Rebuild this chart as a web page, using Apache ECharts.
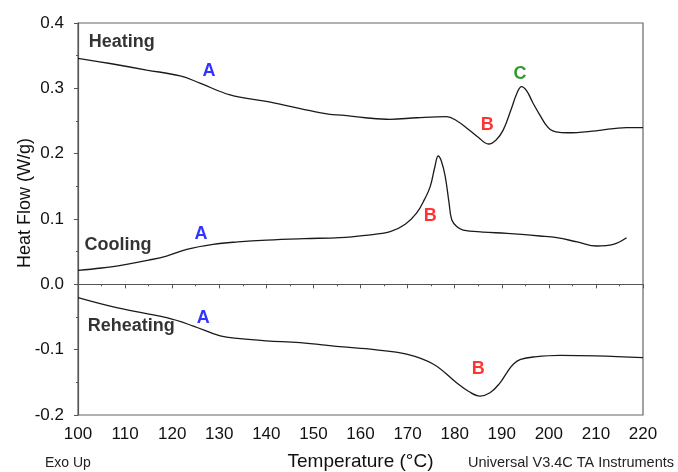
<!DOCTYPE html>
<html><head><meta charset="utf-8">
<script src="https://cdn.jsdelivr.net/npm/echarts@6/dist/echarts.min.js"></script>
<style>html,body{margin:0;padding:0;background:#fff}#c{width:678px;height:472px}</style>
</head><body><div id="c"></div>
<script>
const heating = [
 [100,0.346],[106.8,0.338],[114.6,0.328],[121.7,0.319],[125.9,0.308],[132.3,0.290],[140,0.280],[147.2,0.269],[153.5,0.260],[156,0.259],
 [161,0.255],[166.3,0.2526],[172,0.255],[178.3,0.2566],[180.5,0.250],[182.6,0.239],[185,0.225],[187.2,0.2148],[188.8,0.221],[190.3,0.236],
 [192,0.268],[193.2,0.292],[194.2,0.3025],[195.3,0.296],[196.6,0.278],[198.1,0.259],[199.3,0.245],[200.3,0.237],[201.5,0.2335],[204,0.232],[210,0.235],[216.5,0.240],[220,0.240]
];
const cooling = [
 [100,0.0214],[105,0.025],[110.3,0.0307],[115,0.037],[118.8,0.0433],[123.1,0.0536],[128.7,0.0612],[134,0.065],[140.1,0.0678],[148,0.070],[155.6,0.0715],
 [161,0.075],[166.3,0.0806],[169.5,0.092],[171.9,0.109],[173.6,0.130],[174.8,0.1495],[175.8,0.180],[176.5,0.1964],[177.2,0.188],[178,0.165],[178.8,0.125],[179.4,0.0985],
 [180.5,0.088],[181.8,0.083],[186,0.080],[191.1,0.078],[198.1,0.074],[201.7,0.0714],[206,0.065],[210.2,0.0587],[213.7,0.0613],[216.5,0.0714]
];
const reheating = [
 [100,-0.0205],[108.2,-0.0358],[118.8,-0.051],[124.5,-0.0638],[130.2,-0.079],[134.4,-0.0832],[140,-0.0865],[147.2,-0.0893],[155.6,-0.0955],
 [163,-0.100],[169.8,-0.107],[175.5,-0.1224],[180.4,-0.1506],[183,-0.164],[185.4,-0.171],[187.5,-0.166],[189.5,-0.152],[191.1,-0.135],[192.5,-0.122],[194,-0.115],
 [197,-0.111],[202.4,-0.1087],[210,-0.1095],[220,-0.1123]
];
// annotations: [temperature, heat flow, text, color]
const notes = [
 [109.3,0.371,'Heating','#000'],[127.8,0.3265,'A','#0000ff'],[193.9,0.322,'C','#008000'],[186.9,0.244,'B','#ff0000'],
 [108.5,0.060,'Cooling','#000'],[126.1,0.077,'A','#0000ff'],[174.8,0.1046,'B','#ff0000'],
 [111.3,-0.0638,'Reheating','#000'],[126.6,-0.0516,'A','#0000ff'],[185.0,-0.1296,'B','#ff0000']
];
const xTicks = [100,220,10,5];
const yTicks = [-0.2,0.4,0.1,0.05];

const chart = echarts.init(document.getElementById('c'));
const lineSeries = (d)=>({type:'line',data:d,showSymbol:false,smooth:0.4,lineStyle:{color:'#1a1a1a',width:1.3},animation:false,silent:true});
const axisCol = '#555';
chart.setOption({
 animation:false,
 grid:{left:78,right:35,top:23,bottom:57,show:true,borderColor:'#666',borderWidth:1.2,outerBoundsMode:'none',containLabel:false},
 xAxis:[{type:'value',min:xTicks[0],max:xTicks[1],interval:xTicks[2],
  name:'Temperature (°C)',nameLocation:'middle',nameGap:37,nameMoveOverlap:false,nameTextStyle:{fontSize:19,color:'#111',fontFamily:'Liberation Sans'},
  axisLine:{lineStyle:{color:axisCol,width:1.2}},axisTick:{length:4,lineStyle:{color:axisCol}},
  splitLine:{show:false},axisLabel:{fontSize:17,color:'#111',margin:11,fontFamily:'Liberation Sans'}},
  {type:'value',position:'bottom',min:xTicks[0],max:xTicks[1],interval:xTicks[3],
  axisLine:{show:false},axisTick:{show:true,length:2,lineStyle:{color:axisCol}},axisLabel:{show:false},splitLine:{show:false}}],
 yAxis:[{type:'value',min:yTicks[0],max:yTicks[1],interval:yTicks[2],
  name:'Heat Flow (W/g)',nameLocation:'middle',nameGap:44,nameMoveOverlap:false,nameTextStyle:{fontSize:18,color:'#111',fontFamily:'Liberation Sans',padding:[0,0,0,32]},
  axisLine:{show:true,lineStyle:{color:axisCol,width:1.2}},axisTick:{show:true,length:4,lineStyle:{color:axisCol}},
  splitLine:{show:false},axisLabel:{fontSize:17,color:'#111',margin:14,fontFamily:'Liberation Sans',formatter:v=>v.toFixed(1)}},
  {type:'value',position:'left',min:yTicks[0],max:yTicks[1],interval:yTicks[3],
  axisLine:{show:false},axisTick:{show:true,length:2,lineStyle:{color:axisCol}},axisLabel:{show:false},splitLine:{show:false}}],
 series:[lineSeries(heating),lineSeries(cooling),lineSeries(reheating),
  {type:'scatter',data:notes.map(n=>({value:[n[0],n[1]],label:{color:n[3]}})),symbolSize:0,silent:true,
   label:{show:true,position:'inside',formatter:p=>notes[p.dataIndex][2],fontSize:18,fontWeight:'bold',fontFamily:'Liberation Sans'}}
 ],
 graphic:[
  {type:'text',left:45,top:456,style:{text:'Exo Up',fontSize:14,fill:'#222',fontFamily:'Liberation Sans'}},
  {type:'text',left:468,top:455,style:{text:'Universal V3.4C TA Instruments',fontSize:14.5,fill:'#222',fontFamily:'Liberation Sans'}}
 ]
});
</script></body></html>
